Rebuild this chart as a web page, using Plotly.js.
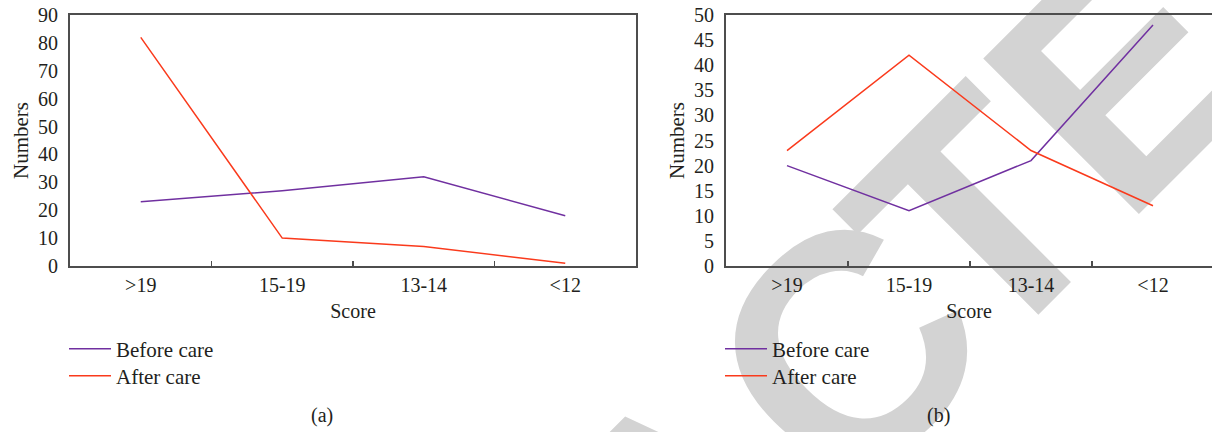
<!DOCTYPE html>
<html>
<head>
<meta charset="utf-8">
<script src="https://cdn.plot.ly/plotly-3.0.1.min.js"></script>
<style>
html,body{margin:0;padding:0;background:#fff;}
#wrap{position:relative;width:1212px;height:432px;overflow:hidden;background:#fff;}
#wm{position:absolute;left:0;top:0;z-index:0;}
#chart{position:absolute;left:0;top:0;width:1212px;height:432px;z-index:1;}
</style>
</head>
<body>
<div id="wrap">
<svg id="wm" width="1212" height="432" xmlns="http://www.w3.org/2000/svg">
  <text font-family="Liberation Sans, Arial, sans-serif" font-weight="bold" font-size="320" fill="#d3d3d3"
        transform="translate(64,1289) rotate(-45)"><tspan>RETRAC</tspan><tspan dx="-30">TED</tspan></text>
</svg>
<div id="chart"></div>
</div>
<script>
const categories = [">19", "15-19", "13-14", "<12"];
const beforeA = [23, 27, 32, 18];
const afterA = [82, 10, 7, 1];
const beforeB = [20, 11, 21, 48];
const afterB = [23, 42, 23, 12];
const yTicksA = [0, 10, 20, 30, 40, 50, 60, 70, 80, 90];
const yTicksB = [0, 5, 10, 15, 20, 25, 30, 35, 40, 45, 50];

const W = 1212, H = 432;
const purple = "#7030a0";
const red = "#fa3a1c";
const txt = "#231f20";
const fam = "'Liberation Serif', 'Times New Roman', serif";
const tickFont = {family: fam, size: 20, color: txt};

const traces = [
  {x: categories, y: beforeA, type: "scatter", mode: "lines", name: "Before care", line: {color: purple, width: 1.5}, xaxis: "x", yaxis: "y", legend: "legend"},
  {x: categories, y: afterA, type: "scatter", mode: "lines", name: "After care", line: {color: red, width: 1.5}, xaxis: "x", yaxis: "y", legend: "legend2"},
  {x: categories, y: beforeB, type: "scatter", mode: "lines", name: "Before care", line: {color: purple, width: 1.5}, xaxis: "x2", yaxis: "y2", legend: "legend3"},
  {x: categories, y: afterB, type: "scatter", mode: "lines", name: "After care", line: {color: red, width: 1.5}, xaxis: "x2", yaxis: "y2", legend: "legend4"}
];

const yDom = [1 - 266 / H, 1 - 15 / H];
function xAxis(dom, rng) {
  return {
    domain: dom, range: rng, type: "category",
    showgrid: false, zeroline: false,
    showline: true, linecolor: "#4d4d4d", linewidth: 2, mirror: true,
    ticks: "inside", ticklen: 5, tickwidth: 1.5, tickcolor: "#4d4d4d",
    tickson: "boundaries",
    tickfont: tickFont,
    title: {text: "Score", font: {family: fam, size: 20, color: txt}, standoff: 9},
    fixedrange: true
  };
}
function yAxis(anchor, rng, vals, mirror) {
  return {
    domain: yDom, range: rng, anchor: anchor,
    tickvals: vals, ticktext: vals.map(String),
    showgrid: false, zeroline: false,
    showline: true, linecolor: "#4d4d4d", linewidth: 2, mirror: mirror,
    ticks: "", tickfont: tickFont, ticklabelstandoff: 6,
    title: {text: "Numbers", font: {family: fam, size: 21, color: txt}, standoff: 4},
    fixedrange: true
  };
}

const legFont = {family: fam, size: 21, color: txt};
function leg(px, py) {
  return {x: px / W, y: 1 - py / H, xanchor: "left", yanchor: "middle", bgcolor: "rgba(0,0,0,0)",
          font: legFont, itemwidth: 42};
}
const layout = {
  width: W, height: H,
  margin: {l: 0, r: 0, t: 0, b: 0},
  paper_bgcolor: "rgba(0,0,0,0)", plot_bgcolor: "rgba(0,0,0,0)",
  font: tickFont,
  showlegend: true,
  xaxis: Object.assign(xAxis([70 / W, 636 / W], [-0.5, 3.5]), {anchor: "y"}),
  yaxis: yAxis("x", [0, 90], yTicksA, true),
  xaxis2: Object.assign(xAxis([726 / W, 1], [-0.5, 3.5 - 2 / 122]), {anchor: "y2"}),
  yaxis2: yAxis("x2", [0, 50], yTicksB, false),
  legend: leg(64, 349),
  legend2: leg(64, 376),
  legend3: leg(720, 349),
  legend4: leg(720, 376),
  annotations: [
    {text: "(a)", x: 322 / W, y: 1 - 415 / H, xref: "paper", yref: "paper", yanchor: "middle", xanchor: "center", showarrow: false,
     font: {family: fam, size: 20, color: txt}},
    {text: "(b)", x: 938 / W, y: 1 - 415 / H, xref: "paper", yref: "paper", yanchor: "middle", xanchor: "center", showarrow: false,
     font: {family: fam, size: 20, color: txt}}
  ]
};

Plotly.newPlot("chart", traces, layout, {displayModeBar: false, staticPlot: true});
</script>
</body>
</html>
